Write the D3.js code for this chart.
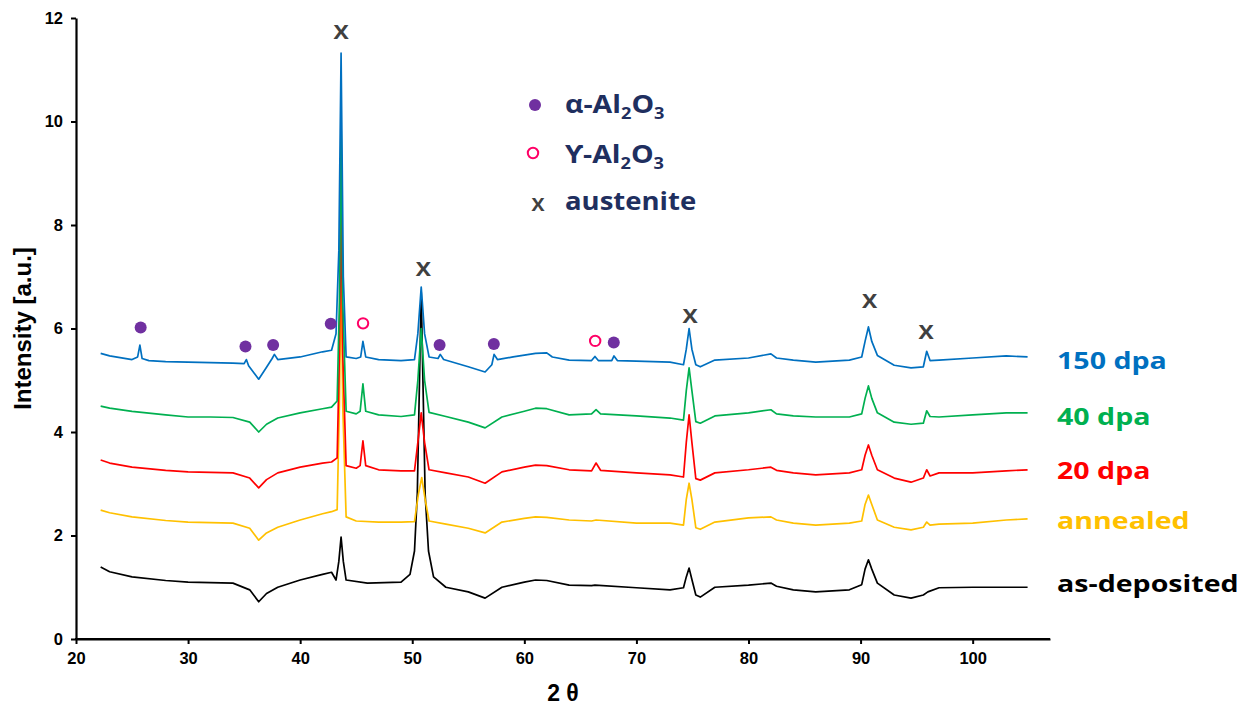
<!DOCTYPE html>
<html>
<head>
<meta charset="utf-8">
<script src="https://cdn.jsdelivr.net/npm/d3@7"></script>
<style>
  html, body { margin: 0; padding: 0; background: #fff; }
  svg { display: block; }
</style>
</head>
<body>
<svg id="chart" width="1245" height="707"></svg>
<script>
// ---------------- DATA ----------------
const xTicks = [20, 30, 40, 50, 60, 70, 80, 90, 100];
const yTicks = [0, 2, 4, 6, 8, 10, 12];

const seriesNames = ["as-deposited", "annealed", "20 dpa", "40 dpa", "150 dpa"];
const seriesColors = ["#000000", "#FFC000", "#FF0000", "#00B050", "#0070C0"];

const asDeposited = [[22.2,1.39],[23,1.30],[25,1.20],[28,1.13],[30,1.10],[32,1.09],[34,1.08],[35.5,0.95],[36.3,0.72],[37,0.88],[38,1.0],[40,1.14],[42,1.25],[42.8,1.29],[43.2,1.14],[43.45,1.5],[43.65,1.97],[43.85,1.5],[44.1,1.14],[46,1.08],[49,1.10],[49.8,1.25],[50.2,1.7],[50.45,2.8],[50.8,6.7],[51.15,2.8],[51.45,1.7],[51.9,1.2],[53,1.0],[55,0.91],[56.5,0.79],[58,1.0],[60,1.10],[61,1.14],[62,1.13],[64,1.04],[66,1.03],[66.3,1.04],[70,0.99],[73,0.95],[74.2,0.99],[74.45,1.2],[74.7,1.37],[74.95,1.15],[75.3,0.85],[75.7,0.81],[77,1.0],[80,1.04],[82,1.08],[82.5,1.02],[84,0.95],[86,0.91],[89,0.95],[90.1,1.05],[90.4,1.35],[90.7,1.53],[91.0,1.35],[91.5,1.08],[93,0.85],[94.5,0.79],[95.6,0.85],[96,0.91],[97,0.99],[100,1.0],[103,1.0],[104.9,1.0]];

const annealed = [[22.2,2.49],[23,2.44],[25,2.36],[28,2.29],[30,2.26],[32,2.25],[34,2.24],[35.5,2.14],[36.3,1.91],[37,2.05],[38,2.16],[40,2.30],[42,2.42],[42.8,2.46],[43.3,2.5],[43.5,4.5],[43.65,7.2],[43.8,4.5],[44.1,2.36],[45,2.28],[47,2.26],[49,2.26],[50.2,2.27],[50.55,2.8],[50.85,3.12],[51.15,2.7],[51.5,2.28],[53,2.22],[55,2.14],[56.5,2.05],[58,2.26],[60,2.33],[61,2.36],[62,2.35],[64,2.30],[66,2.28],[66.4,2.30],[70,2.24],[73,2.24],[74.2,2.20],[74.45,2.7],[74.7,3.01],[74.95,2.7],[75.3,2.15],[75.7,2.12],[77,2.26],[80,2.34],[82,2.36],[82.5,2.30],[84,2.24],[86,2.20],[89,2.24],[90.1,2.28],[90.4,2.6],[90.7,2.78],[91.0,2.6],[91.5,2.30],[93,2.16],[94.5,2.11],[95.6,2.16],[95.9,2.26],[96.2,2.2],[97,2.22],[100,2.24],[103,2.30],[104.9,2.32]];

const dpa20 = [[22.2,3.46],[23,3.40],[25,3.32],[28,3.26],[30,3.23],[32,3.22],[34,3.21],[35.5,3.11],[36.3,2.92],[37,3.08],[38,3.21],[40,3.32],[42,3.40],[42.8,3.42],[43.3,3.5],[43.5,5.5],[43.65,8.5],[43.8,5.5],[44.1,3.35],[45,3.30],[45.35,3.35],[45.6,3.83],[45.85,3.35],[47,3.27],[49,3.25],[50.2,3.25],[50.5,3.8],[50.8,4.37],[51.1,3.8],[51.5,3.27],[53,3.21],[55,3.13],[56.5,3.01],[58,3.23],[60,3.32],[61,3.36],[62,3.35],[64,3.27],[66,3.25],[66.4,3.40],[66.8,3.26],[70,3.21],[73,3.17],[74.2,3.13],[74.45,3.8],[74.7,4.33],[74.95,3.8],[75.3,3.1],[75.7,3.07],[77,3.21],[80,3.27],[82,3.32],[82.5,3.26],[84,3.21],[86,3.17],[89,3.21],[90.1,3.27],[90.4,3.55],[90.7,3.75],[91.0,3.55],[91.5,3.27],[93,3.11],[94.5,3.03],[95.6,3.11],[95.9,3.27],[96.2,3.15],[97,3.21],[100,3.21],[103,3.25],[104.9,3.27]];

const dpa40 = [[22.2,4.50],[23,4.46],[25,4.40],[28,4.33],[30,4.29],[32,4.29],[34,4.28],[35.5,4.19],[36.3,4.0],[37,4.15],[38,4.27],[40,4.37],[42,4.45],[42.8,4.48],[43.3,4.6],[43.5,6.5],[43.65,10.0],[43.8,6.5],[44.1,4.40],[45,4.35],[45.35,4.4],[45.6,4.93],[45.85,4.4],[47,4.33],[49,4.30],[50.2,4.33],[50.5,5.0],[50.8,6.0],[51.1,5.0],[51.5,4.38],[53,4.30],[55,4.19],[56.5,4.08],[58,4.29],[60,4.40],[61,4.46],[62,4.45],[64,4.33],[66,4.35],[66.4,4.43],[66.8,4.35],[70,4.31],[73,4.27],[74.2,4.23],[74.45,4.8],[74.7,5.24],[74.95,4.8],[75.3,4.2],[75.7,4.17],[77,4.31],[80,4.37],[82,4.43],[82.5,4.35],[84,4.31],[86,4.29],[89,4.29],[90.1,4.35],[90.4,4.65],[90.7,4.89],[91.0,4.65],[91.5,4.37],[93,4.19],[94.5,4.15],[95.6,4.17],[95.9,4.41],[96.2,4.30],[97,4.29],[100,4.33],[103,4.37],[104.9,4.37]];

const dpa150 = [[22.2,5.52],[23,5.47],[25,5.40],[25.5,5.45],[25.7,5.68],[25.9,5.42],[26.5,5.38],[28,5.36],[30,5.35],[32,5.34],[34,5.33],[35,5.32],[35.2,5.40],[35.4,5.28],[36.3,5.02],[37,5.25],[37.5,5.42],[37.7,5.50],[38,5.40],[40,5.45],[42,5.55],[42.8,5.58],[43.2,5.9],[43.45,7.5],[43.65,11.32],[43.85,7.0],[44.1,5.45],[45,5.42],[45.4,5.45],[45.6,5.75],[45.85,5.45],[47,5.40],[49,5.38],[50.2,5.40],[50.5,5.9],[50.8,6.80],[51.1,5.9],[51.5,5.45],[52.3,5.42],[52.5,5.50],[52.8,5.40],[55,5.26],[56.5,5.16],[57.1,5.30],[57.3,5.50],[57.6,5.40],[59,5.45],[61,5.52],[62,5.53],[62.5,5.45],[64,5.39],[66,5.38],[66.3,5.46],[66.6,5.38],[67.8,5.38],[68,5.47],[68.3,5.38],[70,5.37],[73,5.35],[74.2,5.30],[74.45,5.6],[74.7,6.0],[74.95,5.6],[75.3,5.30],[75.7,5.26],[77,5.39],[80,5.43],[82,5.51],[82.5,5.43],[84,5.39],[86,5.35],[89,5.39],[90.1,5.45],[90.4,5.75],[90.7,6.03],[91.0,5.75],[91.5,5.48],[93,5.29],[94.5,5.24],[95.6,5.26],[95.9,5.56],[96.2,5.38],[97,5.39],[100,5.43],[103,5.47],[104.9,5.45]];

const seriesData = [asDeposited, annealed, dpa20, dpa40, dpa150];

// phase markers
const alphaX = [25.77, 35.12, 37.59, 42.73, 52.44, 57.28, 67.98];
const alphaY = [6.02, 5.65, 5.68, 6.09, 5.68, 5.70, 5.73];
const gammaX = [45.61, 66.32];
const gammaY = [6.10, 5.76];
const austX = [43.65, 51.0, 74.8, 90.8, 95.85];
const austY = [11.73, 7.14, 6.23, 6.52, 5.92];

// ---------------- CHART ----------------
const svg = d3.select("#chart");
const x = d3.scaleLinear().domain([20, 106.9]).range([76, 1050]);
const y = d3.scaleLinear().domain([0, 12]).range([639, 18]);

const tickFont = "'Liberation Sans', Arial, sans-serif";
const labelFont = "'Open Sans', 'DejaVu Sans', sans-serif";

// series lines
const line = d3.line().x(d => x(d[0])).y(d => y(d[1]));
svg.append("g").selectAll("path")
  .data(seriesData)
  .join("path")
  .attr("d", line)
  .attr("fill", "none")
  .attr("stroke", (d, i) => seriesColors[i])
  .attr("stroke-width", 1.7)
  .attr("stroke-linejoin", "round");

// axes
const xAxis = svg.append("g")
  .attr("transform", `translate(0,${y(0)})`)
  .call(d3.axisBottom(x).tickValues(xTicks).tickSize(5).tickSizeOuter(0).tickPadding(8));
const yAxis = svg.append("g")
  .attr("transform", `translate(${x(20)},0)`)
  .call(d3.axisLeft(y).tickValues(yTicks).tickSize(5).tickSizeOuter(0).tickPadding(8));

[xAxis, yAxis].forEach(g => {
  g.select(".domain").attr("stroke", "#000").attr("stroke-width", 2.2);
  g.selectAll(".tick line").attr("stroke", "#000").attr("stroke-width", 2);
  g.selectAll(".tick text")
    .attr("fill", "#000")
    .style("font-family", tickFont)
    .style("font-weight", "bold")
    .style("font-size", "16.5px");
});
svg.append("line").attr("x1", x(20) - 1).attr("x2", x(106.9))
  .attr("y1", y(0)).attr("y2", y(0)).attr("stroke", "#000").attr("stroke-width", 2.2);

// axis titles
svg.append("text")
  .attr("x", (x(20) + x(106.9)) / 2).attr("y", 701)
  .attr("text-anchor", "middle")
  .style("font-family", tickFont).style("font-weight", "bold").style("font-size", "23px")
  .text("2 θ");

svg.append("text")
  .attr("transform", `translate(31,${y(6)}) rotate(-90)`)
  .attr("text-anchor", "middle")
  .style("font-family", tickFont).style("font-weight", "bold").style("font-size", "24px")
  .text("Intensity [a.u.]");

// austenite X labels
svg.append("g").selectAll("g")
  .data(austX.map((v, i) => [v, austY[i]]))
  .join("g")
  .attr("transform", d => `translate(${x(d[0])},${y(d[1])}) scale(1.2,1)`)
  .append("text")
  .attr("text-anchor", "middle")
  .attr("dy", "0.36em")
  .attr("fill", "#404040")
  .style("font-family", labelFont).style("font-weight", "bold").style("font-size", "19px")
  .text("X");

// alpha dots
svg.append("g").selectAll("circle")
  .data(alphaX.map((v, i) => [v, alphaY[i]]))
  .join("circle")
  .attr("cx", d => x(d[0])).attr("cy", d => y(d[1]))
  .attr("r", 6).attr("fill", "#7030A0");

// gamma open circles
svg.append("g").selectAll("circle")
  .data(gammaX.map((v, i) => [v, gammaY[i]]))
  .join("circle")
  .attr("cx", d => x(d[0])).attr("cy", d => y(d[1]))
  .attr("r", 5.2).attr("fill", "#fff").attr("stroke", "#FF0066").attr("stroke-width", 2);

// legend
const legendColor = "#1F2F5F";
const leg = svg.append("g");
leg.append("circle").attr("cx", 535).attr("cy", 105).attr("r", 6).attr("fill", "#7030A0");
leg.append("circle").attr("cx", 533).attr("cy", 153).attr("r", 5.2).attr("fill", "#fff")
  .attr("stroke", "#FF0066").attr("stroke-width", 2);
leg.append("g").attr("transform", "translate(538,205) scale(1.15,1)")
  .append("text").attr("text-anchor", "middle").attr("dy", "0.36em")
  .attr("fill", "#404040")
  .style("font-family", labelFont).style("font-weight", "bold").style("font-size", "17px")
  .text("X");

function formulaLabel(prefix, ty) {
  const g = leg.append("g").attr("transform", `translate(565,${ty}) scale(1.14,1)`);
  const t = g.append("text").attr("fill", legendColor)
    .style("font-family", labelFont).style("font-weight", "bold").style("font-size", "25px");
  t.append("tspan").text(prefix + "-Al");
  t.append("tspan").attr("dy", 6).style("font-size", "16px").text("2");
  t.append("tspan").attr("dy", -6).text("O");
  t.append("tspan").attr("dy", 6).style("font-size", "16px").text("3");
}
formulaLabel("α", 113);
formulaLabel("ϒ", 163);
leg.append("g").attr("transform", "translate(565,210) scale(1.1,1)")
  .append("text").attr("fill", legendColor)
  .style("font-family", labelFont).style("font-weight", "bold").style("font-size", "25px")
  .text("austenite");

// right-side series labels
const labelBaselines = [592, 529, 479, 425, 369];
svg.append("g").selectAll("g")
  .data(seriesNames)
  .join("g")
  .attr("transform", (d, i) => `translate(1057,${labelBaselines[i]}) scale(1.27,1)`)
  .append("text")
  .attr("fill", (d, i) => seriesColors[i])
  .style("font-family", labelFont).style("font-weight", "bold").style("font-size", "22.5px")
  .text(d => d);
</script>
</body>
</html>
